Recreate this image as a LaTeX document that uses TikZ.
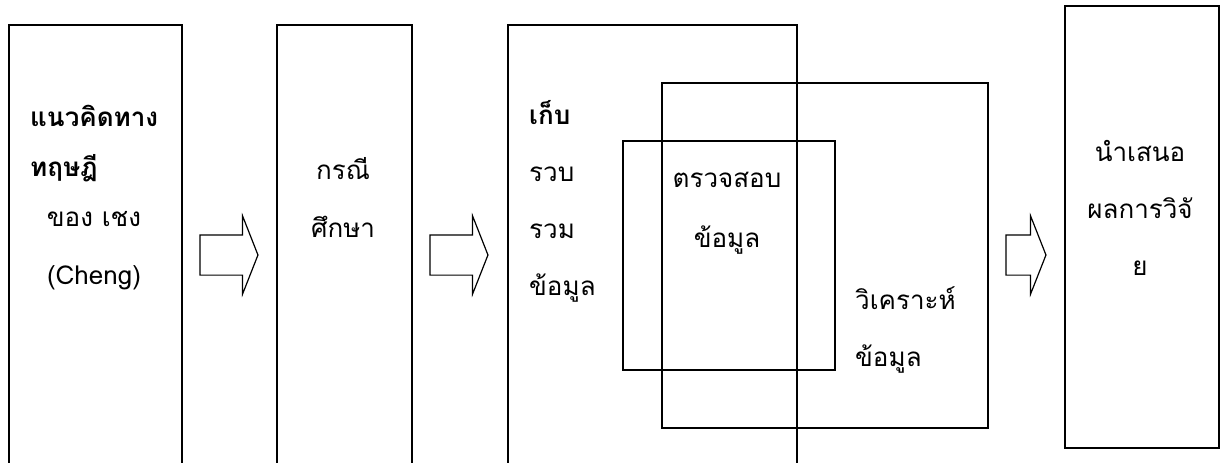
\documentclass[tikz,border=0pt]{standalone}
\usepackage{fontspec}
\newfontfamily\thaifont[Script=Thai]{Loma}
\usetikzlibrary{shapes.arrows}

\tikzset{
  stage/.style={draw, line width=1.5pt, anchor=north west, inner sep=0pt},
  label/.style={font=\thaifont\fontsize{26}{57}\selectfont, inner sep=0pt},
  flow/.style={draw, line width=1.2pt, single arrow, inner sep=0pt,
    text height=39pt, text depth=0pt, minimum height=58pt, minimum width=77pt,
    single arrow head extend=19pt, single arrow tip angle=137},
}

\begin{document}
\begin{tikzpicture}[x=1pt,y=-1pt]
  \useasboundingbox (0,0) rectangle (1226,463);
  \clip (0,0) rectangle (1226,463);

  % the five stages of the study
  \node[stage, minimum width=173pt, minimum height=460pt] (theory) at (8,24) {};
  \node[stage, minimum width=135pt, minimum height=460pt] (case) at (276,24) {};
  \node[stage, minimum width=289pt, minimum height=460pt] (collect) at (507,24) {};
  \node[stage, minimum width=326pt, minimum height=345pt] (analyse) at (661,82) {};
  \node[stage, minimum width=212pt, minimum height=229pt] (check) at (622,140) {};
  \node[stage, minimum width=154pt, minimum height=442pt] (present) at (1064,5) {};

  % block arrows between the stages
  \node[flow] (ar1) at (225,255) {};
  \node[flow] (ar2) at (455,255) {};
  \node[flow, minimum height=40pt] (ar3) at (1022,255) {};

  % texts
  \node[label, anchor=north west, align=left, font=\thaifont\bfseries\fontsize{26}{50}\selectfont]
    (theoryhead) at (30,105) {แนวคิดทาง\\ทฤษฎี};
  \node[label, anchor=north, align=center, font=\thaifont\fontsize{26}{58}\selectfont]
    (theorytext) at (94,211) {ของ เชง\\(Cheng)};
  \node[label, anchor=north, align=center, font=\thaifont\fontsize{26}{58}\selectfont]
    (casetext) at (343,157) {กรณี\\ศึกษา};
  \node[label, anchor=north west, align=left] (collecttext) at (529,100)
    {\bfseries เก็บ\\รวบ\\รวม\\ข้อมูล};
  \node[label, anchor=north, align=center, font=\thaifont\fontsize{26}{60}\selectfont]
    (checktext) at (727,172) {ตรวจสอบ\\ข้อมูล};
  \node[label, anchor=north west, align=left] (analysetext) at (855,286) {วิเคราะห์\\ข้อมูล};
  \node[label, anchor=north, align=center] (presenttext) at (1140,140) {นำเสนอ\\ผลการวิจั\\ย};
\end{tikzpicture}
\end{document}
